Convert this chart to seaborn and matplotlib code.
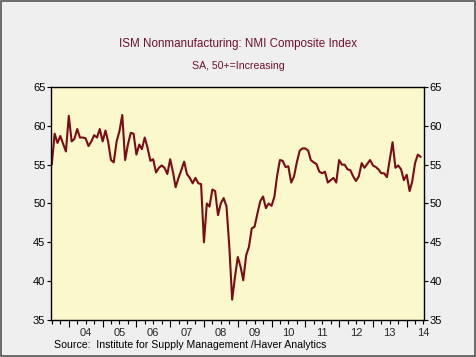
import matplotlib
matplotlib.use("Agg")
import matplotlib.pyplot as plt
import matplotlib.dates as mdates
import seaborn as sns
import pandas as pd

# ISM NMI composite index, monthly, Jul 2003 - Jun 2014
start_month = "2003-07-01"
nmi_values = [
    55.0, 59.0, 57.8, 58.7, 57.7, 56.7,                                # 2003 H2
    61.3, 58.0, 58.3, 59.6, 58.5, 58.5, 58.4, 57.4, 58.0, 58.8, 58.5, 59.6,  # 2004
    58.0, 59.4, 58.0, 55.6, 55.3, 58.0, 59.3, 61.4, 55.6, 57.6, 59.1, 59.0,  # 2005
    56.3, 57.6, 57.0, 58.5, 57.2, 55.5, 55.7, 54.0, 54.6, 54.9, 54.6, 53.8,  # 2006
    55.7, 54.0, 52.1, 53.3, 54.3, 55.4, 53.8, 53.3, 52.6, 53.3, 52.6, 52.5,  # 2007
    45.0, 50.0, 49.6, 51.8, 51.6, 48.5, 50.0, 50.7, 49.6, 44.5, 37.6, 40.5,  # 2008
    43.1, 41.8, 40.1, 43.3, 44.4, 46.8, 47.0, 48.7, 50.3, 50.9, 49.4, 50.0,  # 2009
    49.7, 50.9, 53.5, 55.6, 55.5, 54.7, 54.8, 52.7, 53.5, 55.3, 56.8, 57.1,  # 2010
    57.1, 56.8, 55.6, 55.3, 55.1, 54.1, 53.9, 54.1, 52.7, 53.0, 53.3, 52.7,  # 2011
    55.6, 55.0, 55.0, 54.4, 54.3, 53.5, 52.9, 53.5, 55.2, 54.6, 55.1, 55.6,  # 2012
    54.9, 54.7, 54.4, 53.9, 53.9, 53.4, 55.6, 57.9, 54.6, 54.9, 54.4, 53.0,  # 2013
    53.7, 51.6, 52.8, 55.2, 56.3, 56.0,                                # 2014 H1
]
year_labels = ["04", "05", "06", "07", "08", "09", "10", "11", "12", "13", "14"]
y_ticks = [35, 40, 45, 50, 55, 60, 65]

df = pd.DataFrame({
    "date": pd.date_range(start_month, periods=len(nmi_values), freq="MS"),
    "nmi": nmi_values,
})

sns.set_theme(style="white")
plt.rcParams["font.family"] = ["Liberation Sans", "DejaVu Sans"]

maroon = "#6e1030"
line_color = "#7a0c16"

fig = plt.figure(figsize=(4.76, 3.57), dpi=100)
fig.patch.set_facecolor("#efefef")
ax = fig.add_axes([0.107, 0.104, 0.784, 0.652])
ax.set_facecolor("#fbf8cb")

sns.lineplot(data=df, x="date", y="nmi", ax=ax, color=line_color, linewidth=1.5)

ax.set_ylim(35, 65)
ax.set_xlim(pd.Timestamp("2003-06-22"), pd.Timestamp("2014-07-08"))
ax.set_yticks(y_ticks)
ax.set_xlabel("")
ax.set_ylabel("")

for side in ["left", "right", "top", "bottom"]:
    ax.spines[side].set_color("black")
    ax.spines[side].set_linewidth(1.0)

# y ticks on both sides
ax.tick_params(axis="y", which="major", direction="out", length=3, width=0.8,
               labelsize=8, left=True, right=True, labelleft=True, labelright=True,
               pad=1, colors="black")

# x: long ticks at year starts, short ticks at quarters, labels mid-year
ax.xaxis.set_major_locator(mdates.YearLocator())
ax.xaxis.set_minor_locator(mdates.MonthLocator(bymonth=[4, 7, 10]))
ax.xaxis.set_major_formatter(plt.NullFormatter())
ax.tick_params(axis="x", which="major", direction="out", length=5, width=0.8,
               bottom=True, colors="black")
ax.tick_params(axis="x", which="minor", direction="out", length=3, width=0.8,
               bottom=True, colors="black")

trans = ax.get_xaxis_transform()
for i, lab in enumerate(year_labels):
    ax.text(pd.Timestamp(f"{2004 + i}-07-01"), -0.035, lab, transform=trans,
            ha="center", va="top", fontsize=8, clip_on=False)

fig.text(0.5, 0.878, "ISM Nonmanufacturing: NMI Composite Index",
         ha="center", va="center", fontsize=8.4, color=maroon)
fig.text(0.5, 0.815, "SA, 50+=Increasing",
         ha="center", va="center", fontsize=7.6, color=maroon)
fig.text(0.113, 0.033, "Source:  Institute for Supply Management /Haver Analytics",
         ha="left", va="center", fontsize=7.6, color="black")

# thin frame round the whole picture
fig.add_artist(plt.Rectangle((0.002, 0.003), 0.995, 0.994, transform=fig.transFigure,
                             fill=False, edgecolor="#555555", linewidth=1.2))

fig.savefig("out.png", dpi=100, facecolor=fig.get_facecolor())
